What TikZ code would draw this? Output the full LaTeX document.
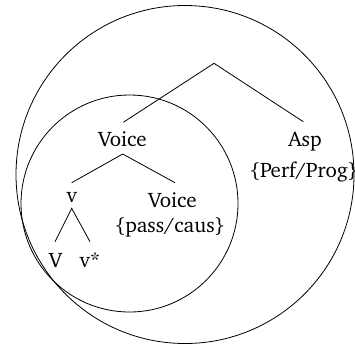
\documentclass[tikz,border=0pt]{standalone}
\usepackage[T1]{fontenc}
\usepackage{charter}
\begin{document}
\begin{tikzpicture}[x=1pt,y=-1pt,
  lbl/.style={inner sep=0pt,font=\fontsize{21}{25}\selectfont},
  edge/.style={line width=0.8pt},
  ring/.style={line width=0.8pt}]
\useasboundingbox (0,0) rectangle (355,349);
\begin{scope}
\clip (0,0) rectangle (355,349);
\draw[ring] (185,174.5) circle (169);
\draw[ring] (129.5,203.5) circle (108.5);
\node[lbl] (voice) at (122.5,139) {Voice};
\node[lbl] (asp) at (305,142) {Asp};
\node[lbl] (pp) at (304,171.5) {\{Perf/Prog\}};
\node[lbl] (v) at (71.7,197) {v};
\node[lbl] (voice2) at (172.5,199.7) {Voice};
\node[lbl] (pc) at (170,227.5) {\{pass/caus\}};
\node[lbl] (V) at (55.5,260) {V};
\node[lbl] (vs) at (90,260) {v*};
\coordinate (root) at (214,63.3);
\coordinate (rl) at (123.3,122.3);
\coordinate (rr) at (303.3,121.7);
\coordinate (va) at (122.7,154);
\coordinate (vl) at (71.7,182.7);
\coordinate (vr) at (175,182.7);
\coordinate (sa) at (71.7,208.3);
\coordinate (sl) at (55,241.7);
\coordinate (sr) at (90,241.7);
\draw[edge] (rl) -- (root) -- (rr);
\draw[edge] (vl) -- (va) -- (vr);
\draw[edge] (sl) -- (sa) -- (sr);
\end{scope}
\end{tikzpicture}
\end{document}
